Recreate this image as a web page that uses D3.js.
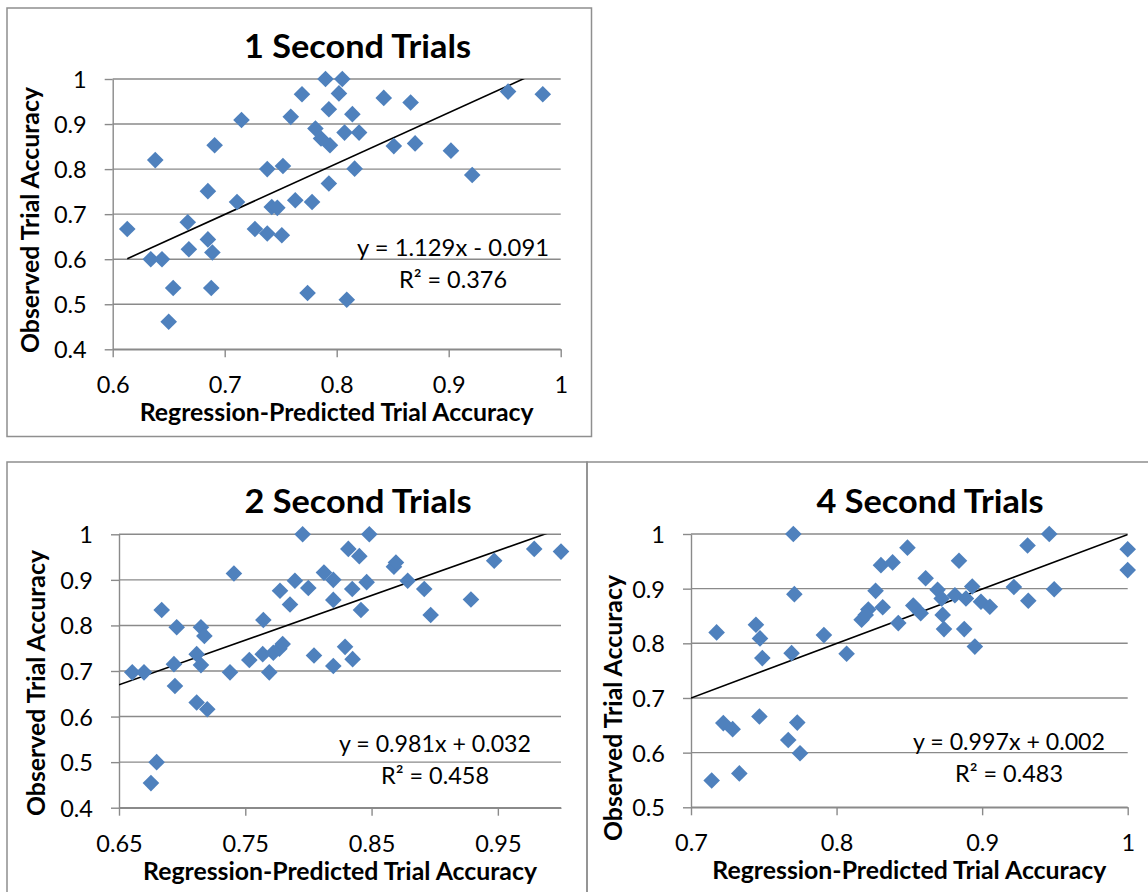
<!DOCTYPE html>
<html>
<head>
<meta charset="utf-8">
<script src="https://cdn.jsdelivr.net/npm/d3@7"></script>
<style>
  body { margin: 0; background: #fff; }
  svg { display: block; }
  text { font-family: Lato, "Noto Sans", sans-serif; fill: #000; }
</style>
</head>
<body>
<svg id="chart" width="1148" height="892"></svg>
<script>
// ---- 1 second trials ----
const predicted1 = [0.613,0.638,0.634,0.644,0.654,0.650,0.667,0.668,0.685,0.691,0.685,0.689,0.688,0.715,0.711,0.727,0.738,0.738,0.752,0.742,0.747,0.751,0.763,0.778,0.759,0.769,0.774,0.790,0.781,0.786,0.793,0.794,0.793,0.805,0.802,0.814,0.807,0.820,0.816,0.809,0.842,0.866,0.851,0.870,0.902,0.921,0.953,0.984];
const observed1  = [0.667,0.820,0.600,0.600,0.536,0.461,0.682,0.622,0.751,0.853,0.644,0.615,0.536,0.909,0.727,0.667,0.657,0.800,0.807,0.716,0.714,0.653,0.731,0.727,0.916,0.966,0.525,1.000,0.890,0.868,0.933,0.853,0.768,1.000,0.968,0.922,0.881,0.881,0.801,0.510,0.958,0.948,0.851,0.857,0.841,0.787,0.972,0.966];

// ---- 2 second trials ----
const predicted2 = [0.6605,0.6698,0.6838,0.6957,0.6935,0.6943,0.6798,0.6753,0.7149,0.7176,0.7115,0.7149,0.7115,0.7199,0.741,0.7379,0.7532,0.7638,0.7643,0.769,0.7722,0.777,0.7796,0.7775,0.7854,0.7893,0.7954,0.7999,0.8044,0.8123,0.8197,0.8197,0.8197,0.8482,0.8316,0.8403,0.8347,0.8461,0.8416,0.829,0.835,0.8677,0.8693,0.8786,0.8917,0.8968,0.9287,0.9471,0.9788,1.0];
const observed2  = [0.697,0.697,0.834,0.796,0.715,0.667,0.500,0.454,0.796,0.777,0.737,0.713,0.631,0.616,0.914,0.697,0.724,0.737,0.812,0.697,0.740,0.749,0.759,0.876,0.846,0.898,1.0,0.882,0.734,0.916,0.900,0.856,0.711,1.0,0.968,0.952,0.880,0.895,0.834,0.753,0.726,0.929,0.938,0.898,0.880,0.823,0.857,0.942,0.968,0.962];

// ---- 4 second trials ----
const predicted4 = [0.7176,0.7142,0.7222,0.7286,0.7332,0.7446,0.7474,0.749,0.747,0.7703,0.771,0.7691,0.773,0.7668,0.7749,0.7913,0.8069,0.8172,0.8218,0.820,0.8268,0.8305,0.8385,0.8317,0.8424,0.8487,0.8527,0.8578,0.8612,0.8841,0.8694,0.8722,0.8813,0.8729,0.8738,0.8877,0.8889,0.8932,0.8992,0.9053,0.895,0.9218,0.9312,0.9461,0.9317,0.9495,1.0,1.0];
const observed4  = [0.820,0.549,0.654,0.643,0.562,0.834,0.809,0.773,0.666,1.0,0.890,0.782,0.655,0.623,0.599,0.815,0.781,0.843,0.862,0.852,0.896,0.943,0.948,0.866,0.837,0.975,0.869,0.855,0.919,0.951,0.898,0.882,0.888,0.852,0.826,0.826,0.882,0.904,0.876,0.867,0.794,0.903,0.979,1.0,0.878,0.899,0.972,0.934];

// chart titles, axis ranges, ticks
const titles = ["1 Second Trials", "2 Second Trials", "4 Second Trials"];
const xDomains = [[0.6, 1.0], [0.65, 1.0], [0.7, 1.0]];
const yDomains = [[0.4, 1.0], [0.4, 1.0], [0.5, 1.0]];
const xTicks = [[0.6, 0.7, 0.8, 0.9, 1], [0.65, 0.75, 0.85, 0.95], [0.7, 0.8, 0.9, 1]];
const yTicks = [[0.4, 0.5, 0.6, 0.7, 0.8, 0.9, 1], [0.4, 0.5, 0.6, 0.7, 0.8, 0.9, 1], [0.5, 0.6, 0.7, 0.8, 0.9, 1]];

// linear trendlines
const slopes = [1.129, 0.981, 0.997];
const intercepts = [-0.091, 0.032, 0.002];
const trendRanges = [[0.613, 0.984], [0.65, 1.0], [0.7, 1.0]];
const equationLabels = ["y = 1.129x - 0.091", "y = 0.981x + 0.032", "y = 0.997x + 0.002"];
const r2Labels = ["R² = 0.376", "R² = 0.458", "R² = 0.483"];

const xAxisTitle = "Regression-Predicted Trial Accuracy";
const yAxisTitle = "Observed Trial Accuracy";

// frame of each chart, plot rectangle and text anchors
const layouts = [
  { box: [7, 8, 584.5, 428.5], plot: [112.7, 79, 560.7, 349.3],
    titleX: 357.5, yTitle: [30.5, 220], eq: [453, 256] },
  { box: [7, 462, 580, 450], plot: [119, 534.3, 561, 807.7],
    titleX: 358, yTitle: [36.5, 683], eq: [435, 752] },
  { box: [587, 462, 580, 450], plot: [691, 534, 1127.7, 807.3],
    titleX: 930, yTitle: [613, 708], eq: [1009, 749.5] }
];

const series = [
  predicted1.map((p, i) => ({ x: p, y: observed1[i] })),
  predicted2.map((p, i) => ({ x: p, y: observed2[i] })),
  predicted4.map((p, i) => ({ x: p, y: observed4[i] }))
];

const svg = d3.select("#chart");
const gridColor = "#8a8a8a";
const markerColor = "#4f81bd";
const fmt = d => String(d);
const diamond = r => `M0,${-r}L${r},0L0,${r}L${-r},0Z`;

function fit(sel, w) {
  sel.attr("textLength", w).attr("lengthAdjust", "spacingAndGlyphs");
}

layouts.forEach((L, k) => {
  const [px0, py0, px1, py1] = L.plot;
  const x = d3.scaleLinear().domain(xDomains[k]).range([px0, px1]);
  const y = d3.scaleLinear().domain(yDomains[k]).range([py1, py0]);

  // chart frame
  svg.append("rect")
    .attr("x", L.box[0]).attr("y", L.box[1])
    .attr("width", L.box[2]).attr("height", L.box[3])
    .attr("fill", "none").attr("stroke", "#8f8f8f").attr("stroke-width", 1.5);

  const g = svg.append("g");

  // horizontal gridlines
  g.append("g").selectAll("line").data(yTicks[k]).join("line")
    .attr("x1", px0).attr("x2", px1)
    .attr("y1", d => y(d)).attr("y2", d => y(d))
    .attr("stroke", gridColor).attr("stroke-width", 1.4);

  // axes
  const xAxis = g.append("g").attr("transform", `translate(0,${py1})`)
    .call(d3.axisBottom(x).tickValues(xTicks[k]).tickFormat(fmt).tickSize(8).tickSizeOuter(0));
  const yAxis = g.append("g").attr("transform", `translate(${px0},0)`)
    .call(d3.axisLeft(y).tickValues(yTicks[k]).tickFormat(fmt).tickSize(8).tickSizeOuter(0).tickPadding(18));

  [xAxis, yAxis].forEach(a => {
    a.select(".domain").attr("stroke", gridColor).attr("stroke-width", 1.4);
    a.selectAll(".tick line").attr("stroke", gridColor).attr("stroke-width", 1.4);
    a.selectAll("text").attr("fill", "#000")
      .style("font-family", "Lato, 'Noto Sans', sans-serif").style("font-size", "23.5px");
  });
  xAxis.selectAll("text").attr("y", 44).attr("dy", 0);
  yAxis.selectAll("text").attr("dy", "0.36em");

  // trendline, clipped to the plot area
  const clipId = "clip" + k;
  svg.append("clipPath").attr("id", clipId).append("rect")
    .attr("x", px0).attr("y", py0).attr("width", px1 - px0).attr("height", py1 - py0);
  const trend = trendRanges[k].map(v => [v, slopes[k] * v + intercepts[k]]);
  g.append("path")
    .attr("clip-path", `url(#${clipId})`)
    .attr("d", d3.line().x(d => x(d[0])).y(d => y(d[1]))(trend))
    .attr("fill", "none").attr("stroke", "#000").attr("stroke-width", 1.6);

  // data markers
  g.append("g").selectAll("path").data(series[k]).join("path")
    .attr("transform", d => `translate(${x(d.x)},${y(d.y)})`)
    .attr("d", diamond(8.3))
    .attr("fill", markerColor);

  // trendline equation and R²
  g.append("text").attr("x", L.eq[0]).attr("y", L.eq[1])
    .attr("text-anchor", "middle").style("font-size", "23.5px")
    .text(equationLabels[k]).call(fit, 192);
  g.append("text").attr("x", L.eq[0]).attr("y", L.eq[1] + 32)
    .attr("text-anchor", "middle").style("font-size", "23.5px")
    .text(r2Labels[k]).call(fit, 108);

  // chart title
  g.append("text").attr("x", L.titleX).attr("y", py0 - 21)
    .attr("text-anchor", "middle").style("font-size", "32px").style("font-weight", "bold")
    .text(titles[k]).call(fit, 227);

  // axis titles
  g.append("text").attr("x", (px0 + px1) / 2).attr("y", py1 + 72)
    .attr("text-anchor", "middle").style("font-size", "24px").style("font-weight", "bold")
    .text(xAxisTitle).call(fit, 394);
  g.append("text")
    .attr("transform", `translate(${L.yTitle[0]},${L.yTitle[1]}) rotate(-90)`)
    .attr("dy", "0.36em")
    .attr("text-anchor", "middle").style("font-size", "24px").style("font-weight", "bold")
    .text(yAxisTitle).call(fit, 266);
});
</script>
</body>
</html>
